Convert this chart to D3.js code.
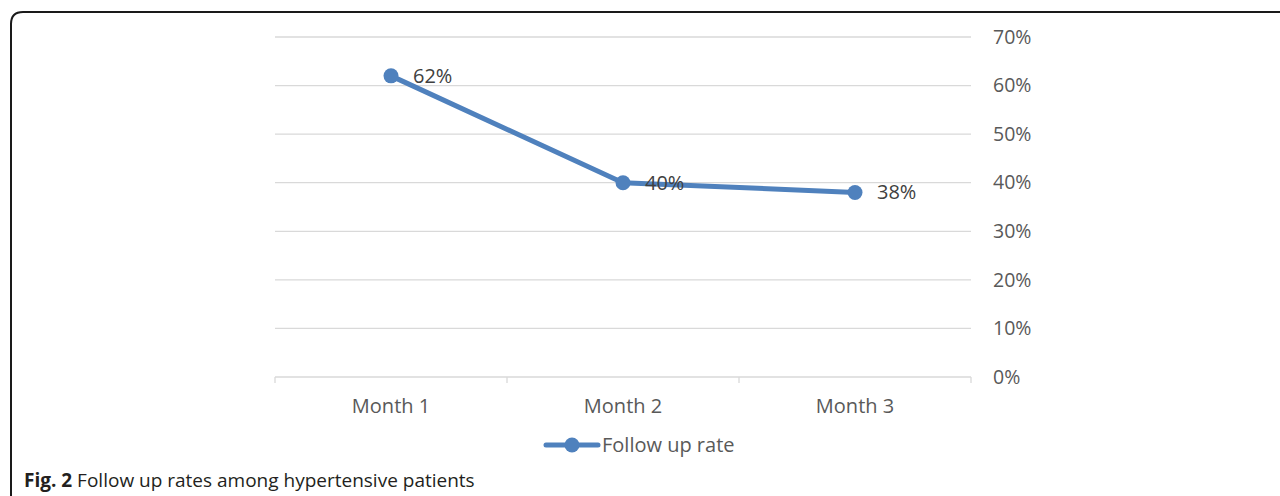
<!DOCTYPE html>
<html><head><meta charset="utf-8">
<script src="https://cdn.jsdelivr.net/npm/d3@7"></script>
<style>
html,body{margin:0;padding:0;background:#fff;}
svg{display:block;}
</style></head>
<body>
<svg id="chart" width="1280" height="496"></svg>
<script>
const categories = ["Month 1", "Month 2", "Month 3"];
const followUpRate = [0.62, 0.40, 0.38];
const valueLabels = ["62%", "40%", "38%"];
const yTicks = [0, 0.1, 0.2, 0.3, 0.4, 0.5, 0.6, 0.7];
const seriesName = "Follow up rate";
const caption = ["Fig. 2", " Follow up rates among hypertensive patients"];

const svg = d3.select("#chart");
const FONT = "'Open Sans', 'Noto Sans', sans-serif";
const blue = "#4f81bd";

// frame
svg.append("path")
  .attr("d", "M11,600 L11,24 Q11,12 23,12 L1300,12")
  .attr("fill", "none").attr("stroke", "#1a1a1a").attr("stroke-width", 2);

const x0 = 275, x1 = 971, yTop = 37, yBot = 377;
const x = d3.scaleBand().domain(categories).range([x0, x1]);
const y = d3.scaleLinear().domain([0, 0.7]).range([yBot, yTop]);

// gridlines
svg.append("g").selectAll("line").data(yTicks.filter(d => d > 0)).join("line")
  .attr("x1", x0).attr("x2", x1)
  .attr("y1", d => y(d)).attr("y2", d => y(d))
  .attr("stroke", "#d9d9d9").attr("stroke-width", 1.3);

// y axis labels on right
const yAxis = d3.axisRight(y).tickValues(yTicks).tickFormat(d3.format(".0%")).tickSize(0).tickPadding(22);
const gy = svg.append("g").attr("transform", `translate(${x1},0)`).call(yAxis);
gy.select(".domain").remove();
gy.selectAll("text").attr("font-family", FONT).attr("font-size", 19.5).attr("fill", "#595959");

// x axis
const xAxis = d3.axisBottom(x).tickSize(0).tickPadding(22);
const gx = svg.append("g").attr("transform", `translate(0,${yBot})`).call(xAxis);
gx.select(".domain").attr("stroke", "#d9d9d9").attr("stroke-width", 1.3).attr("d", `M${x0},0H${x1}`);
gx.selectAll("text").attr("font-family", FONT).attr("font-size", 20).attr("fill", "#595959");
// boundary ticks
const bounds = categories.map(c => x(c)).concat([x1]);
svg.append("g").selectAll("line").data(bounds).join("line")
  .attr("x1", d => d).attr("x2", d => d)
  .attr("y1", yBot).attr("y2", yBot + 6)
  .attr("stroke", "#d9d9d9").attr("stroke-width", 1.3);

const cx = c => x(c) + x.bandwidth() / 2;
const pts = categories.map((c, i) => ({c, v: followUpRate[i], l: valueLabels[i]}));

svg.append("path").datum(pts)
  .attr("d", d3.line().x(d => cx(d.c)).y(d => y(d.v)))
  .attr("fill", "none").attr("stroke", blue).attr("stroke-width", 5).attr("stroke-linejoin", "round");

svg.append("g").selectAll("circle").data(pts).join("circle")
  .attr("cx", d => cx(d.c)).attr("cy", d => y(d.v)).attr("r", 7.5).attr("fill", blue);

svg.append("g").selectAll("text").data(pts).join("text")
  .attr("x", d => cx(d.c) + 22).attr("y", d => y(d.v))
  .attr("dy", "0.35em")
  .attr("font-family", FONT).attr("font-size", 20).attr("fill", "#404040")
  .text(d => d.l);

// legend
const lg = svg.append("g");
lg.append("line").attr("x1", 546).attr("x2", 598).attr("y1", 445).attr("y2", 445)
  .attr("stroke", blue).attr("stroke-width", 5).attr("stroke-linecap", "round");
lg.append("circle").attr("cx", 572).attr("cy", 445).attr("r", 7.5).attr("fill", blue);
lg.append("text").attr("x", 602).attr("y", 445).attr("dy", "0.35em")
  .attr("font-family", FONT).attr("font-size", 20).attr("fill", "#595959").text(seriesName);

// caption
const cap = svg.append("text").attr("x", 24).attr("y", 487)
  .attr("font-family", FONT).attr("font-size", 19).attr("fill", "#231f20");
cap.append("tspan").attr("font-weight", "bold").text(caption[0]);
cap.append("tspan").text(caption[1]);
</script>
</body></html>
